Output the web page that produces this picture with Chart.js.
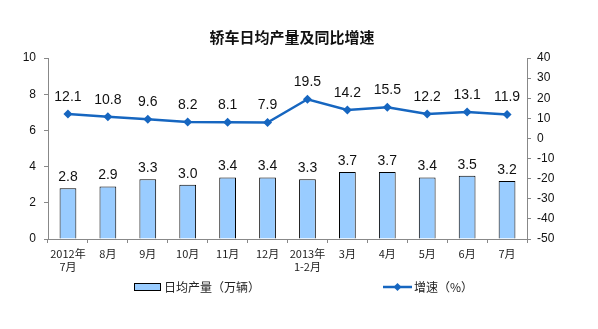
<!DOCTYPE html>
<html lang="zh-CN">
<head>
  <meta charset="UTF-8">
  <title>轿车日均产量及同比增速</title>
  <script src="https://cdn.jsdelivr.net/npm/chart.js"></script>
  <style>
    body { margin: 0; background: #fff; }
    #grafico { display: block; }
  </style>
</head>
<body>
  <canvas id="grafico" width="598" height="329"></canvas>
  <script>
    // 月份（多行标签）
    const meses = [
      ["2012年", "7月"], "8月", "9月", "10月", "11月", "12月",
      ["2013年", "1-2月"], "3月", "4月", "5月", "6月", "7月"
    ];
    // 日均产量（万辆）
    const producao = [2.8, 2.9, 3.3, 3.0, 3.4, 3.4, 3.3, 3.7, 3.7, 3.4, 3.5, 3.2];
    // 同比增速（%）
    const crescimento = [12.1, 10.8, 9.6, 8.2, 8.1, 7.9, 19.5, 14.2, 15.5, 12.2, 13.1, 11.9];

    const titulo = "轿车日均产量及同比增速";
    const legendaBarra = "日均产量（万辆）";
    const legendaLinha = "增速（%）";

    const corBarra = "#99CCFF";
    const corLinha = "#1666C0";
    const fonteCJK = "'Noto Sans CJK SC', 'Noto Sans', sans-serif";
    const fonteNum = "Arial, 'Liberation Sans', sans-serif";

    // Rótulos, título e legenda desenhados à mão
    const rotulos = {
      id: "rotulos",
      afterDatasetsDraw(chart) {
        const ctx = chart.ctx;
        ctx.save();
        ctx.font = "14px " + fonteNum;
        ctx.fillStyle = "#111";
        ctx.textAlign = "center";
        ctx.textBaseline = "bottom";
        chart.getDatasetMeta(0).data.forEach((bar, i) => {
          ctx.fillText(producao[i].toFixed(1), bar.x, bar.y - 4);
        });
        chart.getDatasetMeta(1).data.forEach((pt, i) => {
          ctx.fillText(crescimento[i].toFixed(1), pt.x, pt.y - 10);
        });
        ctx.restore();
      },
      afterDraw(chart) {
        const ctx = chart.ctx;
        ctx.save();
        // título
        ctx.font = "bold 15px " + fonteCJK;
        ctx.fillStyle = "#111";
        ctx.textAlign = "center";
        ctx.textBaseline = "middle";
        ctx.fillText(titulo, 292, 37);

        // legenda
        ctx.font = "12px " + fonteCJK;
        ctx.textAlign = "left";
        ctx.fillStyle = corBarra;
        ctx.fillRect(134, 283, 26, 7);
        ctx.strokeStyle = "#000";
        ctx.lineWidth = 1;
        ctx.strokeRect(134.5, 283.5, 26, 7);
        ctx.fillStyle = "#222";
        ctx.fillText(legendaBarra, 164, 287);

        ctx.strokeStyle = corLinha;
        ctx.lineWidth = 2.5;
        ctx.beginPath();
        ctx.moveTo(383, 287);
        ctx.lineTo(412, 287);
        ctx.stroke();
        ctx.fillStyle = corLinha;
        ctx.beginPath();
        ctx.moveTo(397.5, 283);
        ctx.lineTo(401.5, 287);
        ctx.lineTo(397.5, 291);
        ctx.lineTo(393.5, 287);
        ctx.closePath();
        ctx.fill();
        ctx.fillStyle = "#222";
        ctx.fillText(legendaLinha, 414, 287);
        ctx.restore();
      }
    };

    new Chart(document.getElementById("grafico"), {
      type: "bar",
      data: {
        labels: meses,
        datasets: [
          {
            type: "bar",
            label: legendaBarra,
            data: producao,
            backgroundColor: corBarra,
            borderColor: "#000",
            borderWidth: 1,
            barPercentage: 0.42,
            categoryPercentage: 1,
            yAxisID: "y",
            order: 2
          },
          {
            type: "line",
            label: legendaLinha,
            data: crescimento,
            borderColor: corLinha,
            backgroundColor: corLinha,
            borderWidth: 2.5,
            pointStyle: "rectRot",
            pointRadius: 4.5,
            pointBackgroundColor: corLinha,
            pointBorderWidth: 0,
            tension: 0,
            yAxisID: "y2",
            order: 1
          }
        ]
      },
      options: {
        responsive: false,
        animation: false,
        layout: { padding: { top: 58, left: 0, right: 0, bottom: 0 } },
        plugins: {
          legend: { display: false },
          tooltip: { enabled: false }
        },
        scales: {
          x: {
            grid: {
              display: true,
              drawOnChartArea: false,
              offset: true,
              tickLength: 4,
              color: "#888"
            },
            border: { color: "#888" },
            ticks: {
              color: "#222",
              font: { family: fonteCJK, size: 11 },
              maxRotation: 0,
              autoSkip: false,
              padding: 4
            },
            afterFit(scale) { scale.height = 90; }
          },
          y: {
            position: "left",
            min: 0,
            max: 10,
            grid: { drawOnChartArea: false, tickLength: 4, color: "#888" },
            border: { color: "#888" },
            ticks: {
              stepSize: 2,
              color: "#111",
              font: { family: fonteNum, size: 12 },
              padding: 8
            },
            afterFit(scale) { scale.width = 48; }
          },
          y2: {
            position: "right",
            min: -50,
            max: 40,
            grid: { drawOnChartArea: false, tickLength: 4, color: "#888" },
            border: { color: "#888" },
            ticks: {
              stepSize: 10,
              color: "#111",
              font: { family: fonteNum, size: 12 },
              padding: 6
            },
            afterFit(scale) { scale.width = 71; }
          }
        }
      },
      plugins: [rotulos]
    });
  </script>
</body>
</html>
